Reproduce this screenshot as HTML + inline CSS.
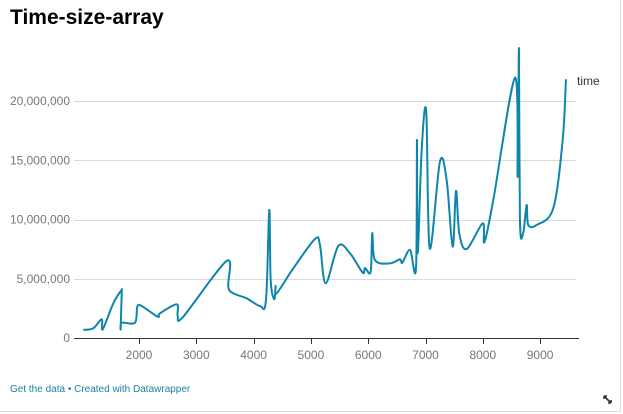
<!DOCTYPE html>
<html><head><meta charset="utf-8"><style>
body{margin:0;background:#fff;font-family:"Liberation Sans",Arial,sans-serif;}
#wrap{position:relative;width:623px;height:414px;overflow:hidden;}
</style></head><body>
<div id="wrap">
<svg id="chart" width="623" height="414">
<line x1="620.5" y1="0" x2="620.5" y2="411" stroke="#ddd"/>
<line x1="0" y1="411.5" x2="621" y2="411.5" stroke="#ddd"/>
<text x="10" y="24" font-size="21" font-weight="bold" fill="#000">Time-size-array</text>
<g id="grid"></g><g id="xaxis"></g>
<path id="line" fill="none" stroke="#0e85ab" stroke-width="2" stroke-linejoin="round"/>
<text x="577" y="85" font-size="12" fill="#333">time</text>
<text x="10" y="392" font-size="10" fill="#1d81a2">Get the data • Created with Datawrapper</text>
<g stroke="#333" stroke-width="1.6">
<line x1="604" y1="396" x2="611" y2="403"/><path d="M604 396 h3 M604 396 v3 M611 403 h-3 M611 403 v-3" /></g>
</svg></div>
<script>
const xVals=[1028,1203,1349,1367,1552,1686,1698,1681,1703,1930,1970,2047,2326,2366,2658,2675,2773,3530,3558,3646,3879,4111,4216,4274,4298,4361,4385,4403,4693,5071,5158,5258,5478,5682,5904,5944,6043,6071,6118,6380,6554,6595,6729,6834,6851,6863,6933,7013,7073,7252,7369,7474,7532,7589,7718,7998,8027,8183,8562,8609,8631,8648,8706,8765,8793,8940,9230,9394,9451];
const timeVals=[0.68,0.82,1.58,0.73,2.93,3.97,3.77,0.82,1.29,1.29,2.64,2.70,1.80,2.08,2.84,1.86,1.80,6.50,4.33,3.77,3.35,2.70,3.21,10.80,4.89,3.27,4.39,3.77,5.88,8.35,7.85,4.62,7.76,7.15,5.51,5.91,5.60,8.84,6.58,6.30,6.64,6.35,7.43,5.88,16.71,7.15,15.87,19.10,7.57,14.88,13.33,7.71,12.41,8.84,7.51,9.68,8.08,11.65,21.97,13.61,24.45,9.96,8.89,11.22,9.54,9.54,10.95,16.71,21.83].map(v=>v*1e6);
const yTicks=[0,5000000,10000000,15000000,20000000];
const yTickLabels=["0","5,000,000","10,000,000","15,000,000","20,000,000"];
const xTicks=[2000,3000,4000,5000,6000,7000,8000,9000];
const xTickLabels=["2000","3000","4000","5000","6000","7000","8000","9000"];
const NS="http://www.w3.org/2000/svg";
const X=v=>139+(v-2000)*0.0573;
const Y=v=>338-v*11.85e-6;
const grid=document.getElementById('grid'),xa=document.getElementById('xaxis');
yTicks.forEach((t,i)=>{
 if(t>0){const l=document.createElementNS(NS,'line');
 l.setAttribute('x1',74);l.setAttribute('x2',576);l.setAttribute('y1',Math.round(Y(t))+0.5);l.setAttribute('y2',Math.round(Y(t))+0.5);
 l.setAttribute('stroke','#d9d9d9');
 
 
 grid.appendChild(l);}
 const tx=document.createElementNS(NS,'text');
 tx.setAttribute('x',70);tx.setAttribute('y',Y(t)+4);tx.setAttribute('text-anchor','end');
 tx.setAttribute('font-size','12');tx.setAttribute('fill','#777');tx.textContent=yTickLabels[i];
 
 
 grid.appendChild(tx);
});
const ax=document.createElementNS(NS,'line');
ax.setAttribute('x1',74);ax.setAttribute('x2',579);ax.setAttribute('y1',338.5);ax.setAttribute('y2',338.5);ax.setAttribute('stroke','#333');


xa.appendChild(ax);
xTicks.forEach((t,i)=>{
 const l=document.createElementNS(NS,'line');
 const x=Math.round(X(t))+0.5;
 l.setAttribute('x1',x);l.setAttribute('x2',x);l.setAttribute('y1',338);l.setAttribute('y2',344);l.setAttribute('stroke','#333');
 
 
 xa.appendChild(l);
 const tx=document.createElementNS(NS,'text');
 tx.setAttribute('x',X(t));tx.setAttribute('y',359);tx.setAttribute('text-anchor','middle');
 tx.setAttribute('font-size','12');tx.setAttribute('fill','#777');tx.textContent=xTickLabels[i];
 
 
 xa.appendChild(tx);
});
const P=xVals.map((v,i)=>[X(v),Y(timeVals[i])]);
let d='M'+P[0][0]+','+P[0][1];
for(let i=0;i<P.length-1;i++){
 const p0=P[i-1]||P[i],p1=P[i],p2=P[i+1],p3=P[i+2]||P[i+1];
 const k=1/6;
 d+=' C'+(p1[0]+(p2[0]-p0[0])*k)+','+(p1[1]+(p2[1]-p0[1])*k)+' '+(p2[0]-(p3[0]-p1[0])*k)+','+(p2[1]-(p3[1]-p1[1])*k)+' '+p2[0]+','+p2[1];
}
document.getElementById('line').setAttribute('d',d);
</script>
</body></html>
